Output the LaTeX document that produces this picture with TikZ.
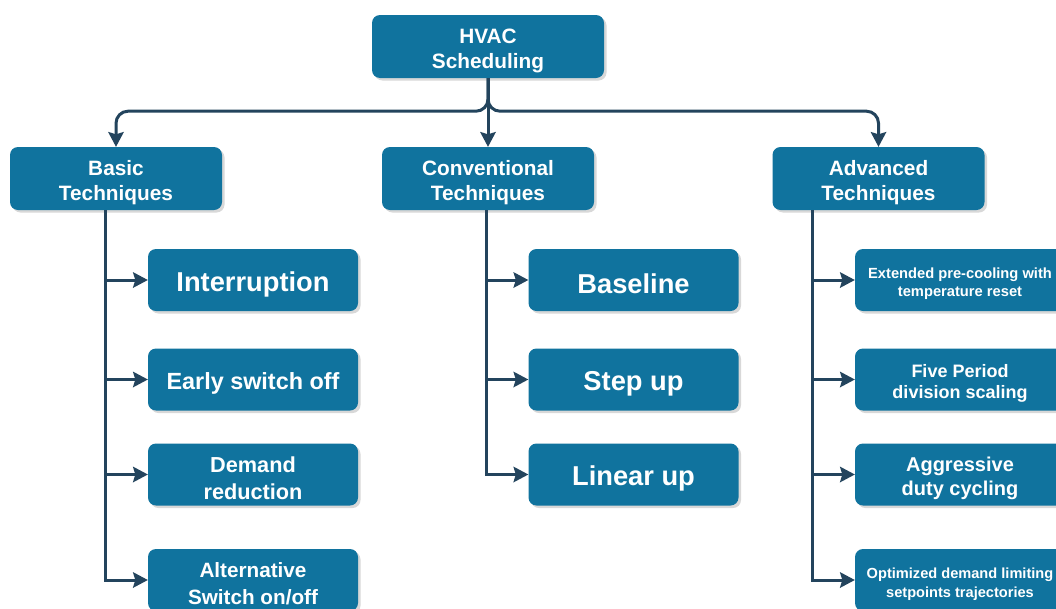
\documentclass[tikz,border=0pt]{standalone}
\usepackage{fontspec}
\setmainfont{Liberation Sans}
\usetikzlibrary{arrows.meta,shadows}
\definecolor{boxblue}{HTML}{10739E}
\definecolor{linec}{HTML}{23445D}
\tikzset{
  box/.style={fill=boxblue, rounded corners=8pt, inner sep=0pt,
    minimum width=210pt, minimum height=62pt,
    drop shadow={shadow xshift=2.5pt, shadow yshift=-2.5pt, fill=black!30, opacity=0.5}},
  topbox/.style={box, minimum width=232pt, minimum height=63pt},
  midbox/.style={box, minimum width=212pt, minimum height=63pt},
  txt/.style={text=white, align=center, inner sep=0pt},
  conn/.style={draw=linec, line width=3pt,
    -{Stealth[length=15pt, width=16pt, inset=2.5pt, line width=0pt]}},
  bus/.style={conn, rounded corners=12pt},
}
% \bx{style}{name}{x,y}{size}{leading}{text}
\newcommand{\bx}[6]{%
  \node[#1] (#2) at (#3) {};
  \node[txt, font=\bfseries\fontsize{#4}{#5}\selectfont] (#2-t) at ([yshift=-4pt]#2.center) {#6};
}
\begin{document}
\begin{tikzpicture}[x=1pt, y=-1pt]
\useasboundingbox (0,0) rectangle (1056,608);
\clip (0,0) rectangle (1056,608);
\fill[white] (0,0) rectangle (1056,608);

% top
\bx{topbox}{hvac}{488,46.5}{20.8}{25}{HVAC\\Scheduling}

% level 1
\bx{midbox}{basic}{116,178.5}{20.8}{25}{Basic\\Techniques}
\bx{midbox}{conv}{488,178.5}{20.8}{25}{Conventional\\Techniques}
\bx{midbox}{adv}{878.5,178.5}{20.8}{25}{Advanced\\Techniques}

% basic children
\bx{box}{b1}{253,280}{27.3}{32}{Interruption}
\bx{box}{b2}{253,379.5}{23.4}{28}{Early switch off}
\bx{box}{b3}{253,474.5}{21.7}{27}{Demand\\reduction}
\bx{box}{b4}{253,580}{20.7}{27}{Alternative\\Switch on/off}

% conventional children
\bx{box}{c1}{633.5,280}{27.3}{32}{Baseline}
\bx{box}{c2}{633.5,379.5}{27.3}{32}{Step up}
\bx{box}{c3}{633.5,474.5}{27.3}{32}{Linear up}

% advanced children
\bx{box}{a1}{960,280}{14.7}{18}{Extended pre-cooling with\\temperature reset}
\bx{box}{a2}{960,379.5}{18}{21}{Five Period\\division scaling}
\bx{box}{a3}{960,474.5}{20}{24}{Aggressive\\duty cycling}
\bx{box}{a4}{960,580}{14.6}{19}{Optimized demand limiting\\setpoints trajectories}

% bus
\draw[bus] (hvac.south) -- ++(0,33) -| (basic.north);
\draw[bus] (hvac.south) -- ++(0,33) -| (adv.north);
\draw[conn] (hvac.south) -- (conv.north);

% branches
\foreach \c in {b1,b2,b3,b4}{\draw[conn] ([xshift=-11pt]basic.south) |- (\c.west);}
\foreach \c in {c1,c2,c3}{\draw[conn] ([xshift=-2pt]conv.south) |- (\c.west);}
\foreach \c in {a1,a2,a3,a4}{\draw[conn] ([xshift=-66.5pt]adv.south) |- (\c.west);}
\end{tikzpicture}
\end{document}
